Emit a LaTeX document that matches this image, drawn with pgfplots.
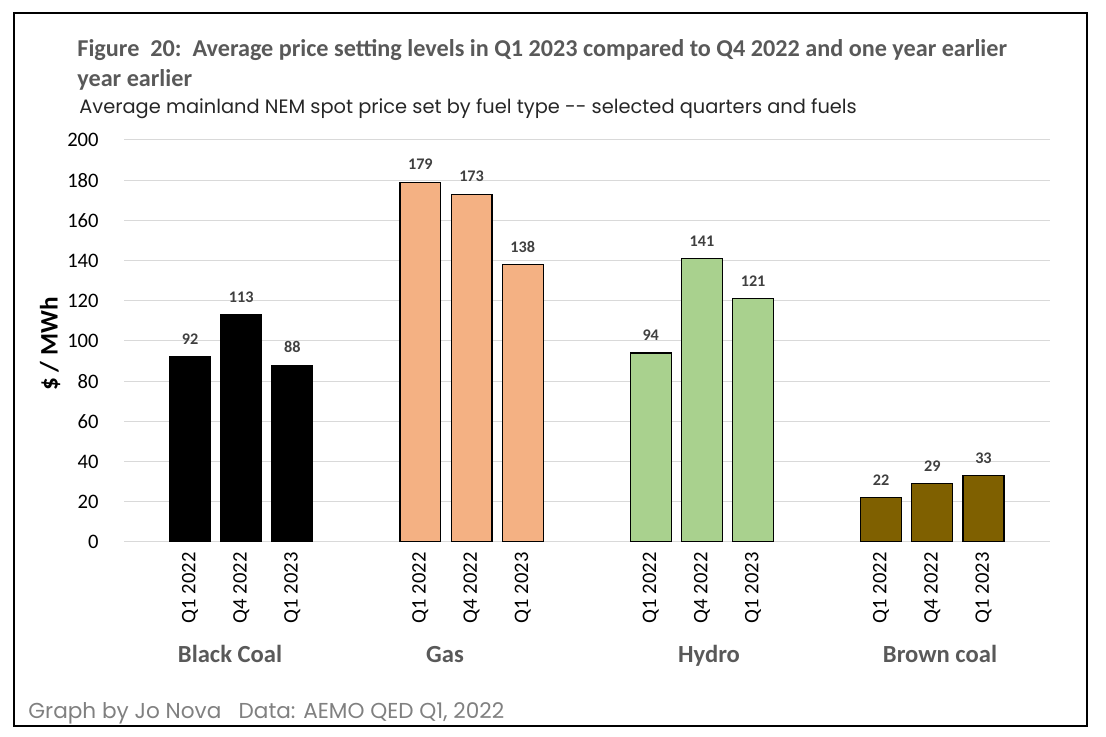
\documentclass[border=0pt]{standalone}
\usepackage{pgfplots}
\pgfplotsset{compat=1.18}
\usepackage{fontspec}
\setmainfont{Carlito}
\newfontfamily\gothic{Poppins}
\definecolor{titlegray}{HTML}{595959}
\definecolor{valgray}{HTML}{404040}
\definecolor{footgray}{HTML}{808080}
\definecolor{gridgray}{HTML}{D9D9D9}
\definecolor{gasfill}{HTML}{F4B183}
\definecolor{hydrofill}{HTML}{A9D18E}
\definecolor{browncoal}{HTML}{7F6000}
\begin{document}
\begin{tikzpicture}
\path[use as bounding box] (0pt,0pt) rectangle (553pt,368.5pt);
\draw[line width=0.75pt] (7pt,5.5pt) rectangle (543.5pt,362pt);
\begin{axis}[
    at={(62pt,97.5pt)}, anchor=south west,
    scale only axis, width=463pt, height=201pt,
    xmin=-1.29, xmax=16.8, ymin=0, ymax=200,
    axis lines*=left, axis line style={draw=none},
    tick style={draw=none},
    ytick={0,20,...,200},
    ymajorgrids, grid style={gridgray, line width=0.5pt},
    xtick={0,1,2,4.5,5.5,6.5,9,10,11,13.5,14.5,15.5},
    xticklabels={Q1 2022,Q4 2022,Q1 2023,Q1 2022,Q4 2022,Q1 2023,Q1 2022,Q4 2022,Q1 2023,Q1 2022,Q4 2022,Q1 2023},
    xticklabel style={rotate=90, anchor=east, inner sep=0pt, font=\fontsize{10.3}{12}\selectfont},
    xticklabel shift=5pt,
    yticklabel style={anchor=east, inner sep=0pt, font=\fontsize{10.3}{12}\selectfont},
    yticklabel shift=12.5pt,
    /pgf/number format/assume math mode=true,
    nodes near coords,
    every node near coord/.append style={font=\fontsize{8.1}{9}\bfseries\selectfont, text=valgray, yshift=2.5pt},
    bar width=0.8,
]
\addplot[ybar, bar shift=0pt, fill=black, draw=black, line width=0.6pt]
    coordinates {(0,92) (1,113) (2,88)};
\addplot[ybar, bar shift=0pt, fill=gasfill, draw=black, line width=0.6pt]
    coordinates {(4.5,179) (5.5,173) (6.5,138)};
\addplot[ybar, bar shift=0pt, fill=hydrofill, draw=black, line width=0.6pt]
    coordinates {(9,94) (10,141) (11,121)};
\addplot[ybar, bar shift=0pt, fill=browncoal, draw=black, line width=0.6pt]
    coordinates {(13.5,22) (14.5,29) (15.5,33)};
\end{axis}
% titles
\node[anchor=base west, inner sep=0pt, text=titlegray, font=\fontsize{12.1}{14}\bfseries\selectfont]
    at (38.5pt,340pt) {Figure\ \ 20:\ \ Average price setting levels in Q1 2023 compared to Q4 2022 and one year earlier};
\node[anchor=base west, inner sep=0pt, text=titlegray, font=\fontsize{12.1}{14}\bfseries\selectfont]
    at (38.5pt,325pt) {year earlier};
\node[anchor=base west, inner sep=0pt, text=black!85, font=\gothic\fontsize{9.7}{11}\selectfont]
    at (39.5pt,311.5pt) {Average mainland NEM spot price set by fuel type -- selected quarters and fuels};
% axis label
\node[rotate=90, inner sep=0pt, font=\fontsize{12.6}{14}\bfseries\selectfont] at (25pt,196.5pt) {\$ / MWh};
% group labels
\foreach \xx/\lab in {115/Black Coal, 222.5/Gas, 354.5/Hydro, 470/Brown coal}
    \node[anchor=base, inner sep=0pt, text=titlegray, font=\fontsize{12.3}{14}\bfseries\selectfont] at (\xx pt,37pt) {\lab};
% footer
\node[anchor=base west, inner sep=0pt, text=footgray, font=\gothic\fontsize{10.8}{12}\selectfont]
    at (14pt,9pt) {Graph by Jo Nova\ \ \ Data: AEMO QED Q1, 2022};
\end{tikzpicture}
\end{document}
